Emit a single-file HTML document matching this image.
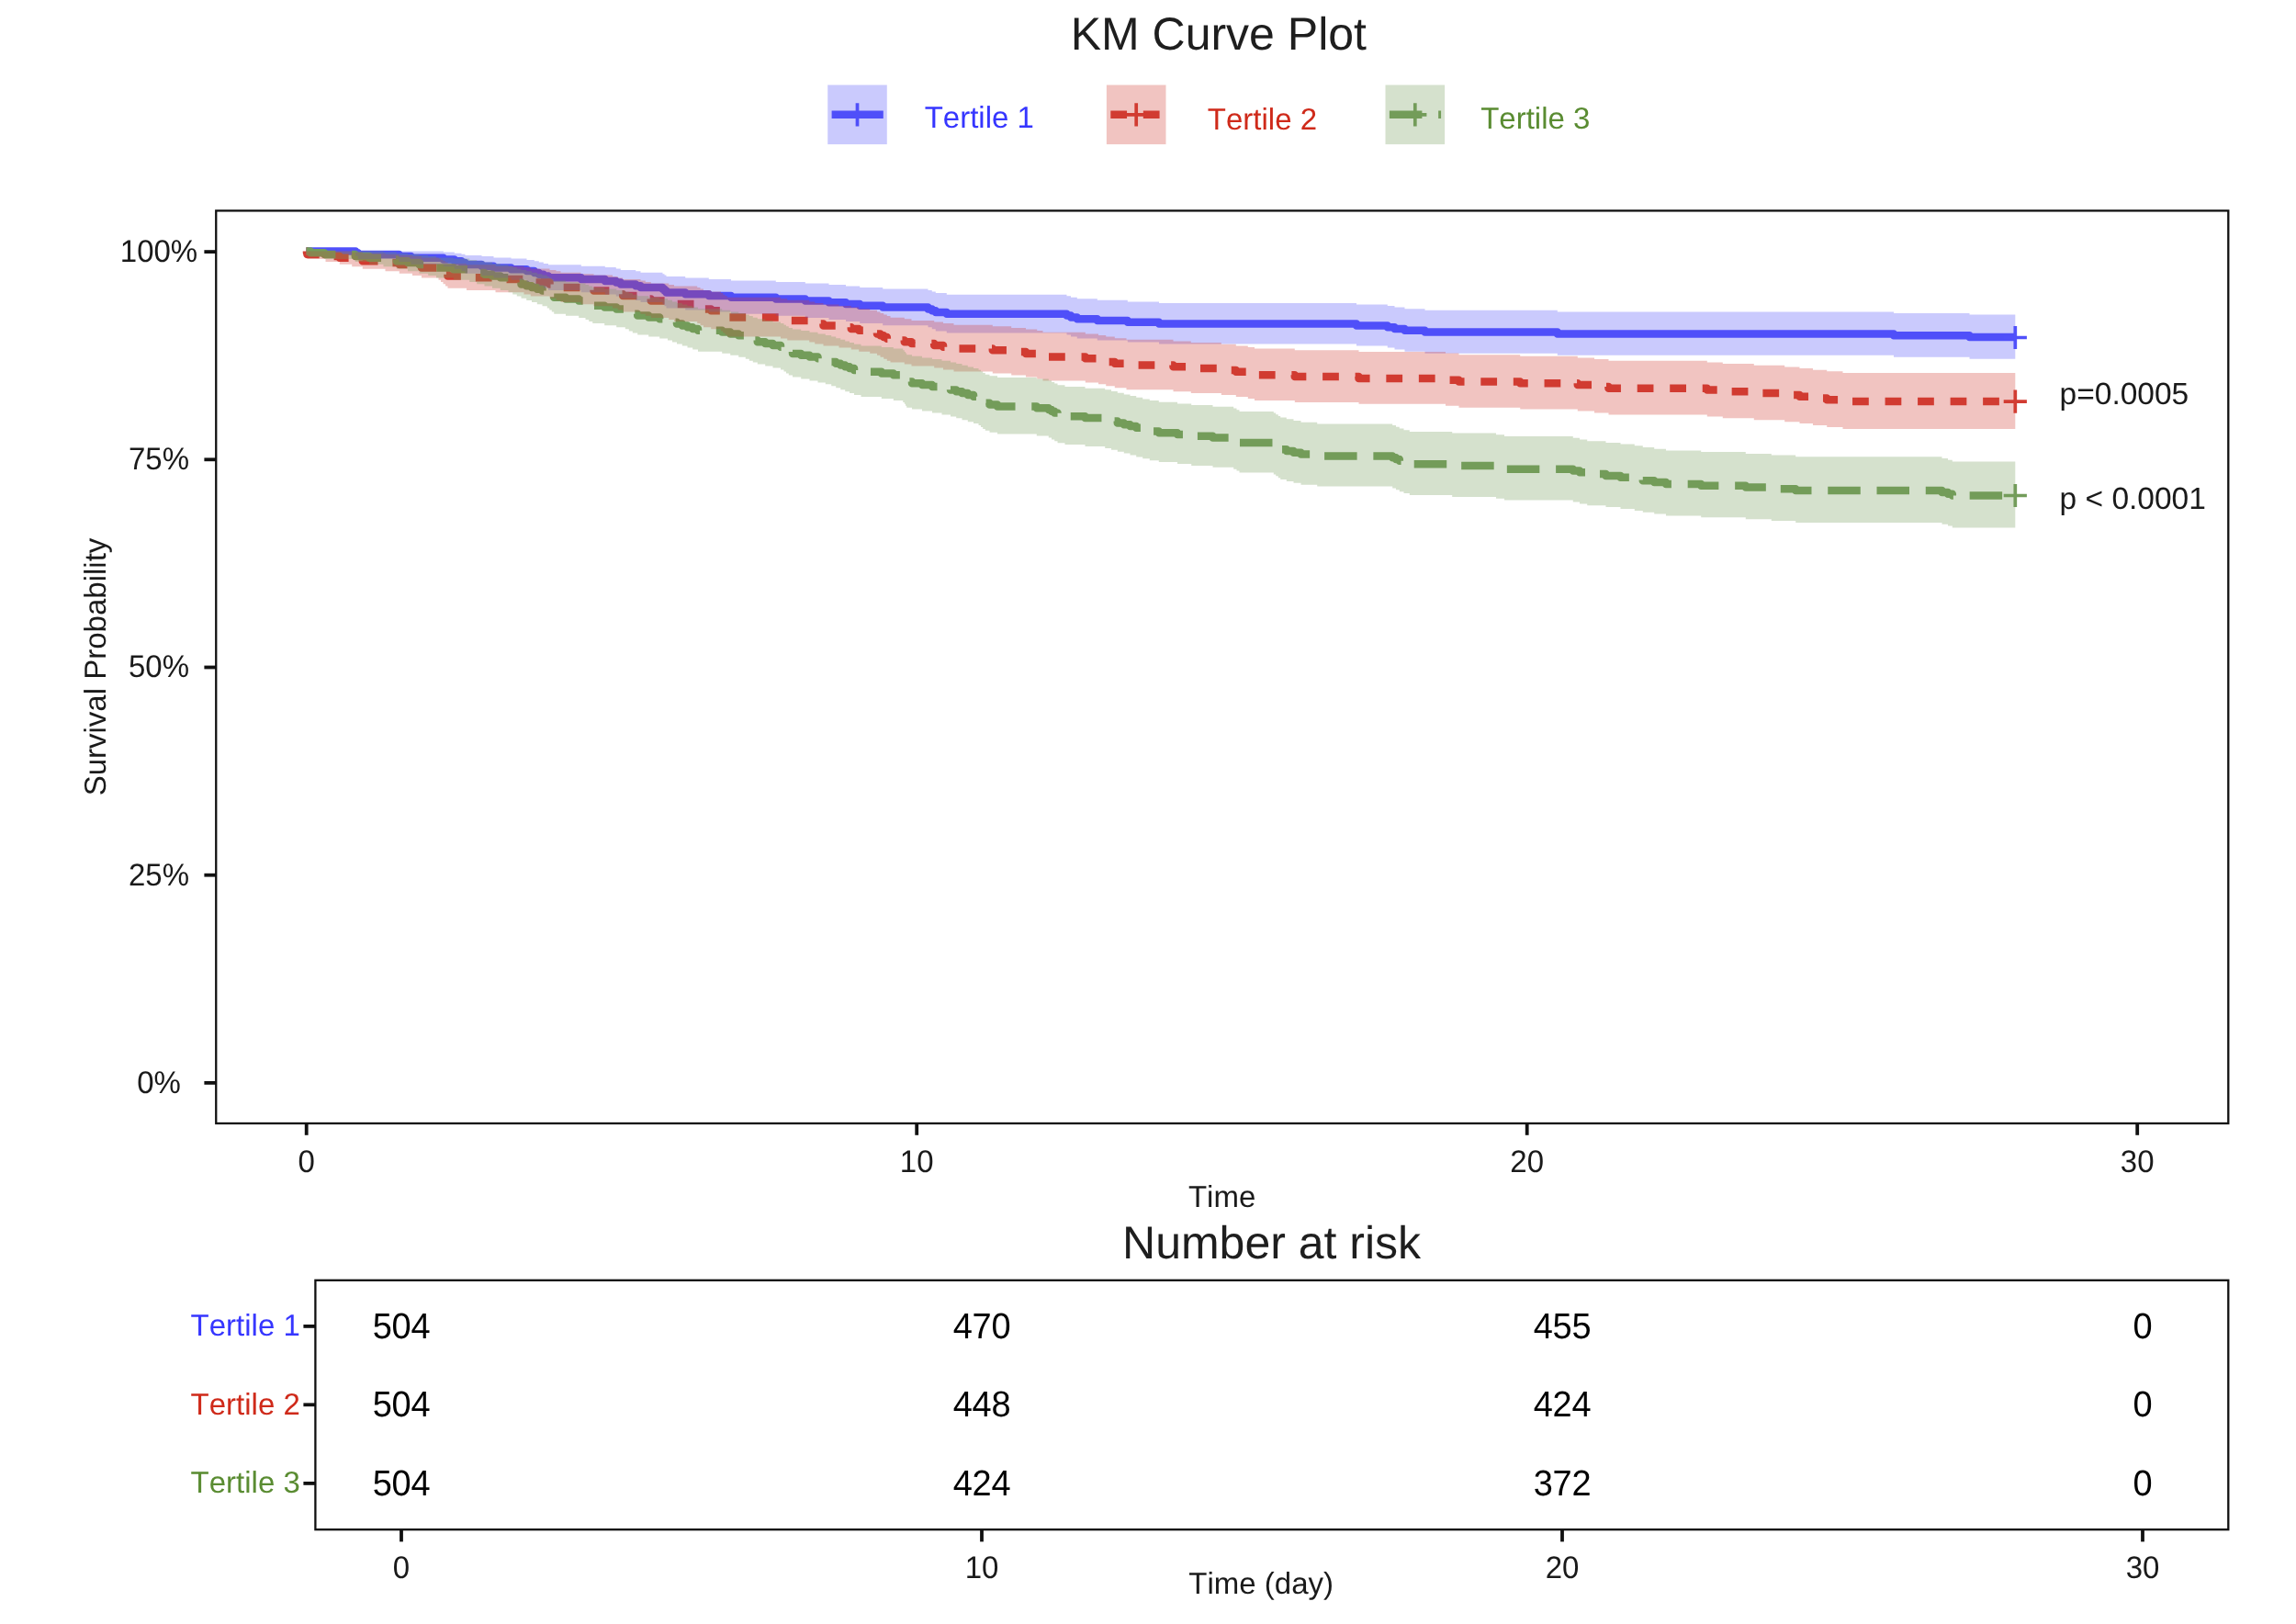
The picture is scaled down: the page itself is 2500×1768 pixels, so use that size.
<!DOCTYPE html>
<html lang="en"><head><meta charset="utf-8"><title>KM Curve Plot</title>
<style>
html,body{margin:0;padding:0;background:#fff;}
body{width:2500px;height:1768px;overflow:hidden;}
svg{display:block;will-change:transform;font-family:"Liberation Sans",sans-serif;font-kerning:none;text-rendering:geometricPrecision;}
</style></head>
<body>
<svg width="2500" height="1768" viewBox="0 0 2500 1768">
<rect width="2500" height="1768" fill="#ffffff"/>
<rect x="235.25" y="229.4" width="2191.05" height="993.6" fill="none" stroke="#111" stroke-width="2.3"/>
<path d="M333.5,273.5H387.2V275.3H389.8V277.1H434.5V278.9H447.5V280.7H482.8V282.5H494.8V284.3H502.5V286.1H506.5V287.9H524.5V289.7H537.5V291.5H556.5V293.3H573.5V295.1H581.8V296.9H586.8V298.7H591.8V300.5H597.0V302.3H632.8V304.1H658.8V305.9H670.8V307.6H675.8V309.4H692.2V311.2H697.5V313.0H721.5V314.8H723.5V316.6H725.5V318.4H746.2V320.2H771.8V322.0H796.0V323.8H844.8V325.6H876.8V327.4H902.5V329.2H921.0V331.0H936.2V332.8H961.2V334.6H1010.5V336.4H1014.8V338.2H1018.8V340.0H1030.8V341.8H1161.5V343.6H1166.0V345.4H1172.8V347.2H1194.8V349.0H1227.8V350.8H1262.0V352.6H1477.0V354.4H1510.8V356.2H1518.5V358.0H1529.5V359.8H1551.5V361.6H1695.8V363.4H2062.0V365.2H2144.5V367.0H2194.3" fill="none" stroke="#5050fa" stroke-width="8.5" stroke-linejoin="round"/>
<path d="M333.5,273.5H334.0V275.3H334.5V277.1H354.5V278.9H369.8V280.7H383.2V282.5H394.8V284.3H419.5V286.1H434.8V287.9H449.0V289.7H459.0V291.5H477.5V293.3H480.0V295.1H482.5V296.9H485.0V298.7H487.5V300.5H508.0V302.3H539.5V304.1H570.5V305.9H577.8V307.6H598.5V309.4H605.5V311.2H610.5V313.0H632.5V314.8H646.5V316.6H667.0V318.4H672.8V320.2H678.2V322.0H697.5V323.8H702.8V325.6H708.8V327.4H728.2V329.2H734.0V331.0H759.2V332.8H762.5V334.6H766.0V336.4H774.2V338.2H785.0V340.0H787.2V341.8H789.5V343.6H791.8V345.4H850.0V347.2H857.2V349.0H881.2V350.8H887.2V352.6H896.5V354.4H913.5V356.2H926.8V358.0H935.2V359.8H947.2V361.6H955.0V363.4H958.5V365.2H962.2V367.0H965.8V368.8H969.5V370.5H984.8V372.3H992.5V374.1H1017.2V375.9H1027.0V377.7H1038.5V379.5H1080.8V381.3H1101.2V383.1H1117.0V384.9H1129.2V386.7H1135.5V388.5H1181.8V390.3H1196.0V392.1H1204.2V393.9H1213.8V395.7H1226.5V397.5H1277.5V399.3H1296.8V401.1H1329.8V402.9H1345.8V404.7H1358.8V406.5H1366.0V408.3H1409.8V410.1H1479.5V411.9H1574.0V413.7H1588.5V415.5H1655.2V417.3H1717.8V419.1H1736.0V420.9H1751.5V422.7H1858.8V424.5H1875.8V426.3H1909.8V428.1H1943.2V429.9H1959.5V431.7H1974.0V433.5H1989.2V435.2H2006.5V437.0H2194.3" fill="none" stroke="#d23c32" stroke-width="8.5" stroke-linejoin="round" stroke-dasharray="17.76 17.76"/>
<path d="M333.5,273.5H338.0V275.3H353.2V277.1H386.8V278.9H402.0V280.7H417.5V282.5H431.8V284.3H444.0V286.1H456.5V287.9H466.2V289.7H475.0V291.5H493.8V293.3H511.2V295.1H519.2V296.9H527.5V298.7H536.0V300.5H544.8V302.3H553.5V304.1H558.2V305.9H562.8V307.6H567.5V309.4H573.2V311.2H579.0V313.0H584.8V314.8H590.5V316.6H595.8V318.4H598.2V320.2H600.8V322.0H603.2V323.8H616.0V325.6H630.2V327.4H637.5V329.2H641.2V331.0H645.2V332.8H658.2V334.6H671.2V336.4H680.8V338.2H684.8V340.0H688.8V341.8H694.2V343.6H706.2V345.4H718.2V347.2H727.0V349.0H732.0V350.8H737.0V352.6H742.8V354.4H748.5V356.2H754.2V358.0H760.0V359.8H786.2V361.6H795.2V363.4H804.2V365.2H811.8V367.0H815.8V368.8H819.8V370.5H824.8V372.3H833.2V374.1H841.5V375.9H850.0V377.7H853.5V379.5H856.0V381.3H858.8V383.1H863.0V384.9H872.2V386.7H881.5V388.5H890.5V390.3H898.8V392.1H905.2V393.9H910.2V395.7H915.2V397.5H920.2V399.3H925.0V401.1H930.0V402.9H937.5V404.7H959.8V406.5H972.8V408.3H983.2V410.1H984.8V411.9H986.0V413.7H987.2V415.5H993.0V417.3H1004.0V419.1H1015.0V420.9H1025.5V422.7H1035.0V424.5H1041.2V426.3H1047.5V428.1H1053.8V429.9H1060.0V431.7H1065.5V433.5H1068.0V435.2H1070.2V437.0H1072.8V438.8H1077.5V440.6H1086.0V442.4H1128.8V444.2H1141.8V446.0H1145.0V447.8H1148.2V449.6H1151.5V451.4H1159.5V453.2H1181.5V455.0H1203.2V456.8H1210.0V458.6H1216.8V460.4H1223.8V462.2H1230.5V464.0H1237.2V465.8H1244.2V467.6H1251.8V469.4H1261.8V471.2H1282.0V473.0H1297.2V474.8H1320.5V476.6H1343.2V478.4H1346.5V480.2H1349.5V482.0H1386.8V483.8H1389.2V485.6H1391.8V487.4H1394.2V489.2H1400.8V491.0H1408.5V492.8H1416.5V494.6H1434.2V496.4H1516.2V498.2H1520.0V500.0H1523.8V501.7H1528.5V503.5H1534.8V505.3H1581.2V507.1H1629.0V508.9H1638.0V510.7H1712.8V512.5H1720.0V514.3H1728.2V516.1H1748.5V517.9H1764.5V519.7H1779.8V521.5H1788.8V523.3H1801.2V525.1H1814.0V526.9H1852.2V528.7H1900.8V530.5H1928.8V532.3H1955.2V534.1H2114.5V535.9H2121.0V537.7H2125.8V539.5H2194.3" fill="none" stroke="#739c5a" stroke-width="8.5" stroke-linejoin="round" stroke-dasharray="35.5 17.76"/>
<path d="M333.5,273.5V273.5H387.2V273.5H389.8V273.5H434.5V273.5H447.5V273.6H482.8V274.6H494.8V275.7H502.5V276.8H506.5V277.9H524.5V279.1H537.5V280.4H556.5V281.6H573.5V282.9H581.8V284.2H586.8V285.6H591.8V286.9H597.0V288.3H632.8V289.7H658.8V291.1H670.8V292.5H675.8V293.9H692.2V295.3H697.5V296.7H721.5V298.2H723.5V299.6H725.5V301.1H746.2V302.6H771.8V304.0H796.0V305.5H844.8V307.0H876.8V308.5H902.5V310.0H921.0V311.5H936.2V313.0H961.2V314.5H1010.5V316.1H1014.8V317.6H1018.8V319.1H1030.8V320.7H1161.5V322.2H1166.0V323.7H1172.8V325.3H1194.8V326.8H1227.8V328.4H1262.0V330.0H1477.0V331.5H1510.8V333.1H1518.5V334.6H1529.5V336.2H1551.5V337.8H1695.8V339.4H2062.0V341.0H2144.5V342.5H2194.3V390.7H2194.3V390.7H2144.5H2144.5V388.7H2062.0H2062.0V386.7H1695.8H1695.8V384.7H1551.5H1551.5V382.7H1529.5H1529.5V380.6H1518.5H1518.5V378.6H1510.8H1510.8V376.6H1477.0H1477.0V374.6H1262.0H1262.0V372.6H1227.8H1227.8V370.6H1194.8H1194.8V368.5H1172.8H1172.8V366.5H1166.0H1166.0V364.5H1161.5H1161.5V362.4H1030.8H1030.8V360.4H1018.8H1018.8V358.3H1014.8H1014.8V356.3H1010.5H1010.5V354.2H961.2H961.2V352.1H936.2H936.2V350.1H921.0H921.0V348.0H902.5H902.5V345.9H876.8H876.8V343.8H844.8H844.8V341.7H796.0H796.0V339.6H771.8H771.8V337.5H746.2H746.2V335.4H725.5H725.5V333.3H723.5H723.5V331.2H721.5H721.5V329.0H697.5H697.5V326.9H692.2H692.2V324.7H675.8H675.8V322.6H670.8H670.8V320.4H658.8H658.8V318.2H632.8H632.8V316.0H597.0H597.0V313.8H591.8H591.8V311.6H586.8H586.8V309.3H581.8H581.8V307.0H573.5H573.5V304.7H556.5H556.5V302.4H537.5H537.5V300.1H524.5H524.5V297.7H506.5H506.5V295.3H502.5H502.5V292.8H494.8H494.8V290.3H482.8H482.8V287.7H447.5H447.5V285.0H434.5H434.5V282.1H389.8H389.8V278.8H387.2H387.2V273.5H333.5Z" fill="#5050fa" fill-opacity="0.3" stroke="none"/>
<path d="M333.5,273.5V273.5H334.0V273.5H334.5V273.5H354.5V273.5H369.8V273.6H383.2V274.6H394.8V275.7H419.5V276.8H434.8V277.9H449.0V279.1H459.0V280.4H477.5V281.6H480.0V282.9H482.5V284.2H485.0V285.6H487.5V286.9H508.0V288.3H539.5V289.7H570.5V291.1H577.8V292.5H598.5V293.9H605.5V295.3H610.5V296.7H632.5V298.2H646.5V299.6H667.0V301.1H672.8V302.6H678.2V304.0H697.5V305.5H702.8V307.0H708.8V308.5H728.2V310.0H734.0V311.5H759.2V313.0H762.5V314.5H766.0V316.1H774.2V317.6H785.0V319.1H787.2V320.7H789.5V322.2H791.8V323.7H850.0V325.3H857.2V326.8H881.2V328.4H887.2V330.0H896.5V331.5H913.5V333.1H926.8V334.6H935.2V336.2H947.2V337.8H955.0V339.4H958.5V341.0H962.2V342.5H965.8V344.1H969.5V345.7H984.8V347.3H992.5V348.9H1017.2V350.5H1027.0V352.1H1038.5V353.7H1080.8V355.3H1101.2V356.9H1117.0V358.5H1129.2V360.1H1135.5V361.7H1181.8V363.4H1196.0V365.0H1204.2V366.6H1213.8V368.2H1226.5V369.8H1277.5V371.5H1296.8V373.1H1329.8V374.7H1345.8V376.4H1358.8V378.0H1366.0V379.6H1409.8V381.3H1479.5V382.9H1574.0V384.5H1588.5V386.2H1655.2V387.8H1717.8V389.5H1736.0V391.1H1751.5V392.8H1858.8V394.4H1875.8V396.1H1909.8V397.7H1943.2V399.4H1959.5V401.0H1974.0V402.7H1989.2V404.3H2006.5V406.0H2194.3V466.9H2194.3V466.9H2006.5H2006.5V464.9H1989.2H1989.2V463.0H1974.0H1974.0V461.1H1959.5H1959.5V459.2H1943.2H1943.2V457.2H1909.8H1909.8V455.3H1875.8H1875.8V453.4H1858.8H1858.8V451.4H1751.5H1751.5V449.5H1736.0H1736.0V447.6H1717.8H1717.8V445.6H1655.2H1655.2V443.7H1588.5H1588.5V441.8H1574.0H1574.0V439.8H1479.5H1479.5V437.9H1409.8H1409.8V435.9H1366.0H1366.0V434.0H1358.8H1358.8V432.0H1345.8H1345.8V430.1H1329.8H1329.8V428.1H1296.8H1296.8V426.2H1277.5H1277.5V424.2H1226.5H1226.5V422.3H1213.8H1213.8V420.3H1204.2H1204.2V418.3H1196.0H1196.0V416.4H1181.8H1181.8V414.4H1135.5H1135.5V412.5H1129.2H1129.2V410.5H1117.0H1117.0V408.5H1101.2H1101.2V406.5H1080.8H1080.8V404.6H1038.5H1038.5V402.6H1027.0H1027.0V400.6H1017.2H1017.2V398.6H992.5H992.5V396.6H984.8H984.8V394.6H969.5H969.5V392.7H965.8H965.8V390.7H962.2H962.2V388.7H958.5H958.5V386.7H955.0H955.0V384.7H947.2H947.2V382.7H935.2H935.2V380.6H926.8H926.8V378.6H913.5H913.5V376.6H896.5H896.5V374.6H887.2H887.2V372.6H881.2H881.2V370.6H857.2H857.2V368.5H850.0H850.0V366.5H791.8H791.8V364.5H789.5H789.5V362.4H787.2H787.2V360.4H785.0H785.0V358.3H774.2H774.2V356.3H766.0H766.0V354.2H762.5H762.5V352.1H759.2H759.2V350.1H734.0H734.0V348.0H728.2H728.2V345.9H708.8H708.8V343.8H702.8H702.8V341.7H697.5H697.5V339.6H678.2H678.2V337.5H672.8H672.8V335.4H667.0H667.0V333.3H646.5H646.5V331.2H632.5H632.5V329.0H610.5H610.5V326.9H605.5H605.5V324.7H598.5H598.5V322.6H577.8H577.8V320.4H570.5H570.5V318.2H539.5H539.5V316.0H508.0H508.0V313.8H487.5H487.5V311.6H485.0H485.0V309.3H482.5H482.5V307.0H480.0H480.0V304.7H477.5H477.5V302.4H459.0H459.0V300.1H449.0H449.0V297.7H434.8H434.8V295.3H419.5H419.5V292.8H394.8H394.8V290.3H383.2H383.2V287.7H369.8H369.8V285.0H354.5H354.5V282.1H334.5H334.5V278.8H334.0H334.0V273.5H333.5Z" fill="#d23c32" fill-opacity="0.3" stroke="none"/>
<path d="M333.5,273.5V273.5H338.0V273.5H353.2V273.5H386.8V273.5H402.0V273.6H417.5V274.6H431.8V275.7H444.0V276.8H456.5V277.9H466.2V279.1H475.0V280.4H493.8V281.6H511.2V282.9H519.2V284.2H527.5V285.6H536.0V286.9H544.8V288.3H553.5V289.7H558.2V291.1H562.8V292.5H567.5V293.9H573.2V295.3H579.0V296.7H584.8V298.2H590.5V299.6H595.8V301.1H598.2V302.6H600.8V304.0H603.2V305.5H616.0V307.0H630.2V308.5H637.5V310.0H641.2V311.5H645.2V313.0H658.2V314.5H671.2V316.1H680.8V317.6H684.8V319.1H688.8V320.7H694.2V322.2H706.2V323.7H718.2V325.3H727.0V326.8H732.0V328.4H737.0V330.0H742.8V331.5H748.5V333.1H754.2V334.6H760.0V336.2H786.2V337.8H795.2V339.4H804.2V341.0H811.8V342.5H815.8V344.1H819.8V345.7H824.8V347.3H833.2V348.9H841.5V350.5H850.0V352.1H853.5V353.7H856.0V355.3H858.8V356.9H863.0V358.5H872.2V360.1H881.5V361.7H890.5V363.4H898.8V365.0H905.2V366.6H910.2V368.2H915.2V369.8H920.2V371.5H925.0V373.1H930.0V374.7H937.5V376.4H959.8V378.0H972.8V379.6H983.2V381.3H984.8V382.9H986.0V384.5H987.2V386.2H993.0V387.8H1004.0V389.5H1015.0V391.1H1025.5V392.8H1035.0V394.4H1041.2V396.1H1047.5V397.7H1053.8V399.4H1060.0V401.0H1065.5V402.7H1068.0V404.3H1070.2V406.0H1072.8V407.7H1077.5V409.3H1086.0V411.0H1128.8V412.6H1141.8V414.3H1145.0V416.0H1148.2V417.6H1151.5V419.3H1159.5V421.0H1181.5V422.7H1203.2V424.3H1210.0V426.0H1216.8V427.7H1223.8V429.4H1230.5V431.0H1237.2V432.7H1244.2V434.4H1251.8V436.1H1261.8V437.8H1282.0V439.4H1297.2V441.1H1320.5V442.8H1343.2V444.5H1346.5V446.2H1349.5V447.9H1386.8V449.6H1389.2V451.3H1391.8V453.0H1394.2V454.6H1400.8V456.3H1408.5V458.0H1416.5V459.7H1434.2V461.4H1516.2V463.1H1520.0V464.8H1523.8V466.5H1528.5V468.2H1534.8V469.9H1581.2V471.6H1629.0V473.3H1638.0V475.0H1712.8V476.7H1720.0V478.5H1728.2V480.2H1748.5V481.9H1764.5V483.6H1779.8V485.3H1788.8V487.0H1801.2V488.7H1814.0V490.4H1852.2V492.1H1900.8V493.9H1928.8V495.6H1955.2V497.3H2114.5V499.0H2121.0V500.7H2125.8V502.4H2194.3V574.5H2194.3V574.5H2125.8H2125.8V572.6H2121.0H2121.0V570.8H2114.5H2114.5V568.9H1955.2H1955.2V567.1H1928.8H1928.8V565.2H1900.8H1900.8V563.3H1852.2H1852.2V561.5H1814.0H1814.0V559.6H1801.2H1801.2V557.7H1788.8H1788.8V555.9H1779.8H1779.8V554.0H1764.5H1764.5V552.1H1748.5H1748.5V550.2H1728.2H1728.2V548.4H1720.0H1720.0V546.5H1712.8H1712.8V544.6H1638.0H1638.0V542.7H1629.0H1629.0V540.9H1581.2H1581.2V539.0H1534.8H1534.8V537.1H1528.5H1528.5V535.2H1523.8H1523.8V533.3H1520.0H1520.0V531.5H1516.2H1516.2V529.6H1434.2H1434.2V527.7H1416.5H1416.5V525.8H1408.5H1408.5V523.9H1400.8H1400.8V522.0H1394.2H1394.2V520.2H1391.8H1391.8V518.3H1389.2H1389.2V516.4H1386.8H1386.8V514.5H1349.5H1349.5V512.6H1346.5H1346.5V510.7H1343.2H1343.2V508.8H1320.5H1320.5V506.9H1297.2H1297.2V505.0H1282.0H1282.0V503.1H1261.8H1261.8V501.2H1251.8H1251.8V499.3H1244.2H1244.2V497.4H1237.2H1237.2V495.5H1230.5H1230.5V493.6H1223.8H1223.8V491.7H1216.8H1216.8V489.8H1210.0H1210.0V487.9H1203.2H1203.2V486.0H1181.5H1181.5V484.1H1159.5H1159.5V482.2H1151.5H1151.5V480.3H1148.2H1148.2V478.4H1145.0H1145.0V476.4H1141.8H1141.8V474.5H1128.8H1128.8V472.6H1086.0H1086.0V470.7H1077.5H1077.5V468.8H1072.8H1072.8V466.9H1070.2H1070.2V464.9H1068.0H1068.0V463.0H1065.5H1065.5V461.1H1060.0H1060.0V459.2H1053.8H1053.8V457.2H1047.5H1047.5V455.3H1041.2H1041.2V453.4H1035.0H1035.0V451.4H1025.5H1025.5V449.5H1015.0H1015.0V447.6H1004.0H1004.0V445.6H993.0H993.0V443.7H987.2H987.2V441.8H986.0H986.0V439.8H984.8H984.8V437.9H983.2H983.2V435.9H972.8H972.8V434.0H959.8H959.8V432.0H937.5H937.5V430.1H930.0H930.0V428.1H925.0H925.0V426.2H920.2H920.2V424.2H915.2H915.2V422.3H910.2H910.2V420.3H905.2H905.2V418.3H898.8H898.8V416.4H890.5H890.5V414.4H881.5H881.5V412.5H872.2H872.2V410.5H863.0H863.0V408.5H858.8H858.8V406.5H856.0H856.0V404.6H853.5H853.5V402.6H850.0H850.0V400.6H841.5H841.5V398.6H833.2H833.2V396.6H824.8H824.8V394.6H819.8H819.8V392.7H815.8H815.8V390.7H811.8H811.8V388.7H804.2H804.2V386.7H795.2H795.2V384.7H786.2H786.2V382.7H760.0H760.0V380.6H754.2H754.2V378.6H748.5H748.5V376.6H742.8H742.8V374.6H737.0H737.0V372.6H732.0H732.0V370.6H727.0H727.0V368.5H718.2H718.2V366.5H706.2H706.2V364.5H694.2H694.2V362.4H688.8H688.8V360.4H684.8H684.8V358.3H680.8H680.8V356.3H671.2H671.2V354.2H658.2H658.2V352.1H645.2H645.2V350.1H641.2H641.2V348.0H637.5H637.5V345.9H630.2H630.2V343.8H616.0H616.0V341.7H603.2H603.2V339.6H600.8H600.8V337.5H598.2H598.2V335.4H595.8H595.8V333.3H590.5H590.5V331.2H584.8H584.8V329.0H579.0H579.0V326.9H573.2H573.2V324.7H567.5H567.5V322.6H562.8H562.8V320.4H558.2H558.2V318.2H553.5H553.5V316.0H544.8H544.8V313.8H536.0H536.0V311.6H527.5H527.5V309.3H519.2H519.2V307.0H511.2H511.2V304.7H493.8H493.8V302.4H475.0H475.0V300.1H466.2H466.2V297.7H456.5H456.5V295.3H444.0H444.0V292.8H431.8H431.8V290.3H417.5H417.5V287.7H402.0H402.0V285.0H386.8H386.8V282.1H353.2H353.2V278.8H338.0H338.0V273.5H333.5Z" fill="#739c5a" fill-opacity="0.3" stroke="none"/>
<path d="M2181.7,367.5H2206.9M2194.3,354.9V380.1" stroke="#5050fa" stroke-width="3.7" fill="none"/>
<path d="M2181.7,437.1H2206.9M2194.3,424.5V449.7" stroke="#d23c32" stroke-width="3.7" fill="none"/>
<path d="M2181.7,539.5H2206.9M2194.3,526.9V552.1" stroke="#739c5a" stroke-width="3.7" fill="none"/>
<path d="M222.4,274.1H235.25" stroke="#111" stroke-width="3.8"/>
<text transform="translate(173.0,285.0) scale(1,1.035)" font-size="33" text-anchor="middle" fill="#1a1a1a">100%</text>
<path d="M222.4,500.3H235.25" stroke="#111" stroke-width="3.8"/>
<text transform="translate(173.0,511.2) scale(1,1.035)" font-size="33" text-anchor="middle" fill="#1a1a1a">75%</text>
<path d="M222.4,726.5H235.25" stroke="#111" stroke-width="3.8"/>
<text transform="translate(173.0,737.4) scale(1,1.035)" font-size="33" text-anchor="middle" fill="#1a1a1a">50%</text>
<path d="M222.4,952.7H235.25" stroke="#111" stroke-width="3.8"/>
<text transform="translate(173.0,963.6) scale(1,1.035)" font-size="33" text-anchor="middle" fill="#1a1a1a">25%</text>
<path d="M222.4,1178.9H235.25" stroke="#111" stroke-width="3.8"/>
<text transform="translate(173.0,1189.8) scale(1,1.035)" font-size="33" text-anchor="middle" fill="#1a1a1a">0%</text>
<path d="M333.7,1223.0V1235.8" stroke="#111" stroke-width="3.8"/>
<text transform="translate(333.7,1275.8) scale(1,1.035)" font-size="33" text-anchor="middle" fill="#1a1a1a">0</text>
<path d="M998.2,1223.0V1235.8" stroke="#111" stroke-width="3.8"/>
<text transform="translate(998.2,1275.8) scale(1,1.035)" font-size="33" text-anchor="middle" fill="#1a1a1a">10</text>
<path d="M1662.7,1223.0V1235.8" stroke="#111" stroke-width="3.8"/>
<text transform="translate(1662.7,1275.8) scale(1,1.035)" font-size="33" text-anchor="middle" fill="#1a1a1a">20</text>
<path d="M2327.2,1223.0V1235.8" stroke="#111" stroke-width="3.8"/>
<text transform="translate(2327.2,1275.8) scale(1,1.035)" font-size="33" text-anchor="middle" fill="#1a1a1a">30</text>
<text x="1330.6" y="1313.8" font-size="33" text-anchor="middle" fill="#1a1a1a">Time</text>
<text transform="translate(115.2,726) rotate(-90)" font-size="33" text-anchor="middle" fill="#1a1a1a">Survival Probability</text>
<text x="2242.6" y="439.8" font-size="33.5" text-anchor="start" fill="#1a1a1a">p=0.0005</text>
<text x="2242.6" y="554.4" font-size="33.5" text-anchor="start" fill="#1a1a1a">p &lt; 0.0001</text>
<text x="1326.8" y="54.4" font-size="50" text-anchor="middle" fill="#1e1e1e">KM Curve Plot</text>
<text x="1384.6" y="1370.2" font-size="50" text-anchor="middle" fill="#1e1e1e">Number at risk</text>
<path d="M905.6,124.8H961.8" stroke="#5050fa" stroke-width="8.5"/>
<path d="M920.9,124.8H946.1M933.5,112.2V137.4" stroke="#5050fa" stroke-width="3.7" fill="none"/>
<rect x="901.2" y="92.5" width="64.6" height="64.6" fill="#5050fa" fill-opacity="0.3"/>
<text x="1006.7" y="138.9" font-size="33" text-anchor="start" fill="#3636ff">Tertile 1</text>
<path d="M1209.3,124.8H1265.5" stroke="#d23c32" stroke-width="8.5" stroke-dasharray="17.76 17.76"/>
<path d="M1224.6,124.8H1249.8M1237.2,112.2V137.4" stroke="#d23c32" stroke-width="3.7" fill="none"/>
<rect x="1204.9" y="92.5" width="64.6" height="64.6" fill="#d23c32" fill-opacity="0.3"/>
<text x="1314.8" y="140.5" font-size="33" text-anchor="start" fill="#cf2a1a">Tertile 2</text>
<path d="M1512.9,124.8H1569.1" stroke="#739c5a" stroke-width="8.5" stroke-dasharray="35.5 17.76"/>
<path d="M1528.2,124.8H1553.4M1540.8,112.2V137.4" stroke="#739c5a" stroke-width="3.7" fill="none"/>
<rect x="1508.5" y="92.5" width="64.6" height="64.6" fill="#739c5a" fill-opacity="0.3"/>
<text x="1612.2" y="139.7" font-size="33" text-anchor="start" fill="#5a8c32">Tertile 3</text>
<rect x="343.4" y="1393.8" width="2082.9" height="271.4000000000001" fill="none" stroke="#111" stroke-width="2.3"/>
<path d="M330.4,1443.9H343.4" stroke="#111" stroke-width="3.8"/>
<text x="326.8" y="1454.4" font-size="33" text-anchor="end" fill="#3636ff">Tertile 1</text>
<text transform="translate(437.0,1456.9) scale(1,1.035)" font-size="38" text-anchor="middle" fill="#000" letter-spacing="-0.3">504</text>
<text transform="translate(1069.0,1456.9) scale(1,1.035)" font-size="38" text-anchor="middle" fill="#000" letter-spacing="-0.3">470</text>
<text transform="translate(1701.0,1456.9) scale(1,1.035)" font-size="38" text-anchor="middle" fill="#000" letter-spacing="-0.3">455</text>
<text transform="translate(2333.0,1456.9) scale(1,1.035)" font-size="38" text-anchor="middle" fill="#000" letter-spacing="-0.3">0</text>
<path d="M330.4,1529.3H343.4" stroke="#111" stroke-width="3.8"/>
<text x="326.8" y="1539.8" font-size="33" text-anchor="end" fill="#cf2a1a">Tertile 2</text>
<text transform="translate(437.0,1542.3) scale(1,1.035)" font-size="38" text-anchor="middle" fill="#000" letter-spacing="-0.3">504</text>
<text transform="translate(1069.0,1542.3) scale(1,1.035)" font-size="38" text-anchor="middle" fill="#000" letter-spacing="-0.3">448</text>
<text transform="translate(1701.0,1542.3) scale(1,1.035)" font-size="38" text-anchor="middle" fill="#000" letter-spacing="-0.3">424</text>
<text transform="translate(2333.0,1542.3) scale(1,1.035)" font-size="38" text-anchor="middle" fill="#000" letter-spacing="-0.3">0</text>
<path d="M330.4,1614.9H343.4" stroke="#111" stroke-width="3.8"/>
<text x="326.8" y="1625.4" font-size="33" text-anchor="end" fill="#5a8c32">Tertile 3</text>
<text transform="translate(437.0,1627.9) scale(1,1.035)" font-size="38" text-anchor="middle" fill="#000" letter-spacing="-0.3">504</text>
<text transform="translate(1069.0,1627.9) scale(1,1.035)" font-size="38" text-anchor="middle" fill="#000" letter-spacing="-0.3">424</text>
<text transform="translate(1701.0,1627.9) scale(1,1.035)" font-size="38" text-anchor="middle" fill="#000" letter-spacing="-0.3">372</text>
<text transform="translate(2333.0,1627.9) scale(1,1.035)" font-size="38" text-anchor="middle" fill="#000" letter-spacing="-0.3">0</text>
<path d="M437.0,1665.2V1678.4" stroke="#111" stroke-width="3.8"/>
<text transform="translate(437.0,1718.4) scale(1,1.035)" font-size="33" text-anchor="middle" fill="#1a1a1a">0</text>
<path d="M1069.0,1665.2V1678.4" stroke="#111" stroke-width="3.8"/>
<text transform="translate(1069.0,1718.4) scale(1,1.035)" font-size="33" text-anchor="middle" fill="#1a1a1a">10</text>
<path d="M1701.0,1665.2V1678.4" stroke="#111" stroke-width="3.8"/>
<text transform="translate(1701.0,1718.4) scale(1,1.035)" font-size="33" text-anchor="middle" fill="#1a1a1a">20</text>
<path d="M2333.0,1665.2V1678.4" stroke="#111" stroke-width="3.8"/>
<text transform="translate(2333.0,1718.4) scale(1,1.035)" font-size="33" text-anchor="middle" fill="#1a1a1a">30</text>
<text x="1373.2" y="1734.7" font-size="33" text-anchor="middle" fill="#1a1a1a">Time (day)</text>
</svg>
</body></html>
